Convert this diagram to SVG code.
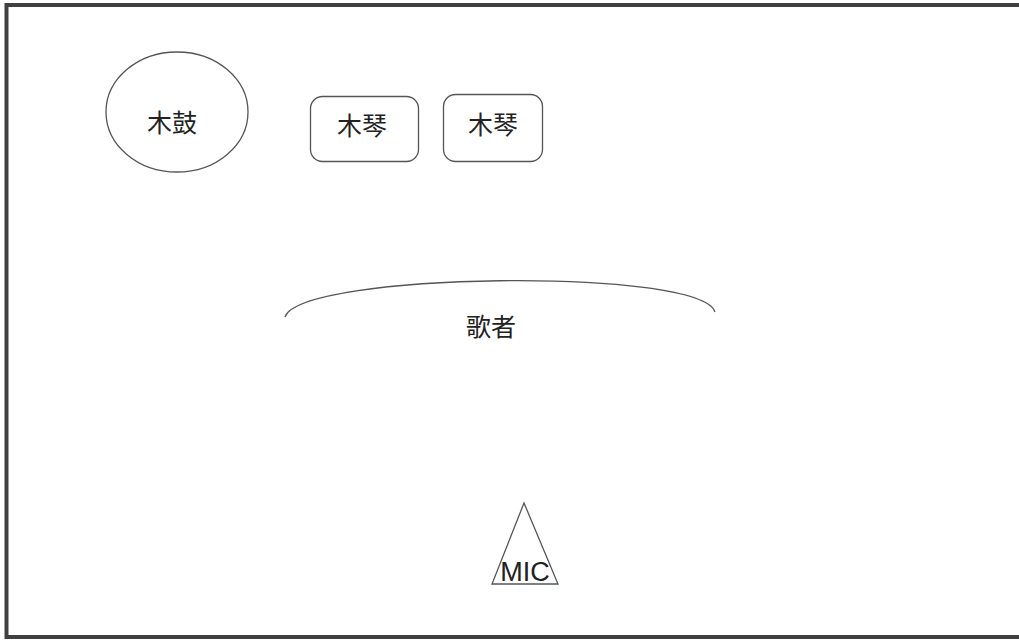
<svg xmlns="http://www.w3.org/2000/svg" width="1019" height="641" viewBox="0 0 1019 641">
<style>
.shape{fill:none;stroke:#555;stroke-width:1.3}
.cjk{font-family:"Noto Sans CJK SC","Noto Sans",sans-serif;font-size:25px;fill:#222;text-anchor:middle;dominant-baseline:central}
.lat{font-family:"Liberation Sans",Arial,sans-serif;font-size:27px;fill:#222;text-anchor:middle}
</style>
<rect width="1019" height="641" fill="#fff"/>
<rect x="6.5" y="5" width="1030" height="632" fill="none" stroke="#404040" stroke-width="4"/>
<g id="drum">
<ellipse class="shape" cx="177" cy="112" rx="71" ry="60"/>
<text class="cjk" x="172" y="121">木鼓</text>
</g>
<g id="piano1">
<rect class="shape" x="310.5" y="96.5" width="108" height="65" rx="12"/>
<text class="cjk" x="362" y="124">木琴</text>
</g>
<g id="piano2">
<rect class="shape" x="443.5" y="94.5" width="99" height="67" rx="12"/>
<text class="cjk" x="493" y="123">木琴</text>
</g>
<g id="singer">
<path class="shape" d="M285,317 C300,272 700,267 715,312"/>
<text class="cjk" x="491" y="325">歌者</text>
</g>
<g id="mic">
<polygon class="shape" points="524,503 492,584 558,584"/>
<text class="lat" x="525" y="581">MIC</text>
</g>
<g id="connectors"/>
</svg>
